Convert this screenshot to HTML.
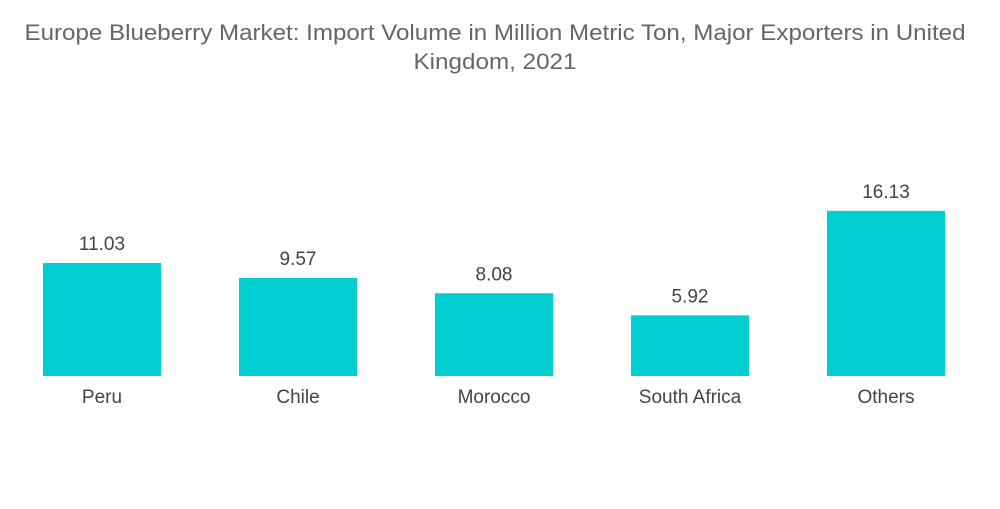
<!DOCTYPE html>
<html><head><meta charset="utf-8"><style>
body{margin:0;background:#fff;font-family:"Liberation Sans",sans-serif;}
</style></head><body>
<svg width="1000" height="504" xmlns="http://www.w3.org/2000/svg">
<g fill="#666" font-size="22" text-anchor="middle" font-family="Liberation Sans, sans-serif">
<text x="495" y="40" textLength="941" lengthAdjust="spacingAndGlyphs">Europe Blueberry Market: Import Volume in Million Metric Ton, Major Exporters in United</text>
<text x="495" y="69" textLength="163" lengthAdjust="spacingAndGlyphs">Kingdom, 2021</text>
</g>
<g id="bars"></g>
</svg>
<script>
const categories=["Peru","Chile","Morocco","South Africa","Others"];
const values=[11.03,9.57,8.08,5.92,16.13];
const labels=["11.03","9.57","8.08","5.92","16.13"];
const ns="http://www.w3.org/2000/svg";
const g=document.getElementById('bars');
const base=376, scale=10.24, x0=43, step=196, bw=118;
function y(v){return base-v*scale;}
function x(i){return x0+i*step;}
categories.forEach((c,i)=>{
  const r=document.createElementNS(ns,'rect');
  
  
  r.setAttribute('x',x(i));r.setAttribute('y',y(values[i]));
  r.setAttribute('width',bw);r.setAttribute('height',base-y(values[i]));
  r.setAttribute('fill','#00ced1');g.appendChild(r);
  const t=document.createElementNS(ns,'text');
  
  
  t.setAttribute('x',x(i)+bw/2);t.setAttribute('y',y(values[i])-13);
  t.setAttribute('text-anchor','middle');t.setAttribute('font-size','19');t.setAttribute('fill','#444');
  t.textContent=labels[i];g.appendChild(t);
  const l=document.createElementNS(ns,'text');
  
  
  l.setAttribute('x',x(i)+bw/2);l.setAttribute('y',403);
  l.setAttribute('text-anchor','middle');l.setAttribute('font-size','19');l.setAttribute('fill','#444');
  l.textContent=c;g.appendChild(l);
});
</script>
</body></html>
